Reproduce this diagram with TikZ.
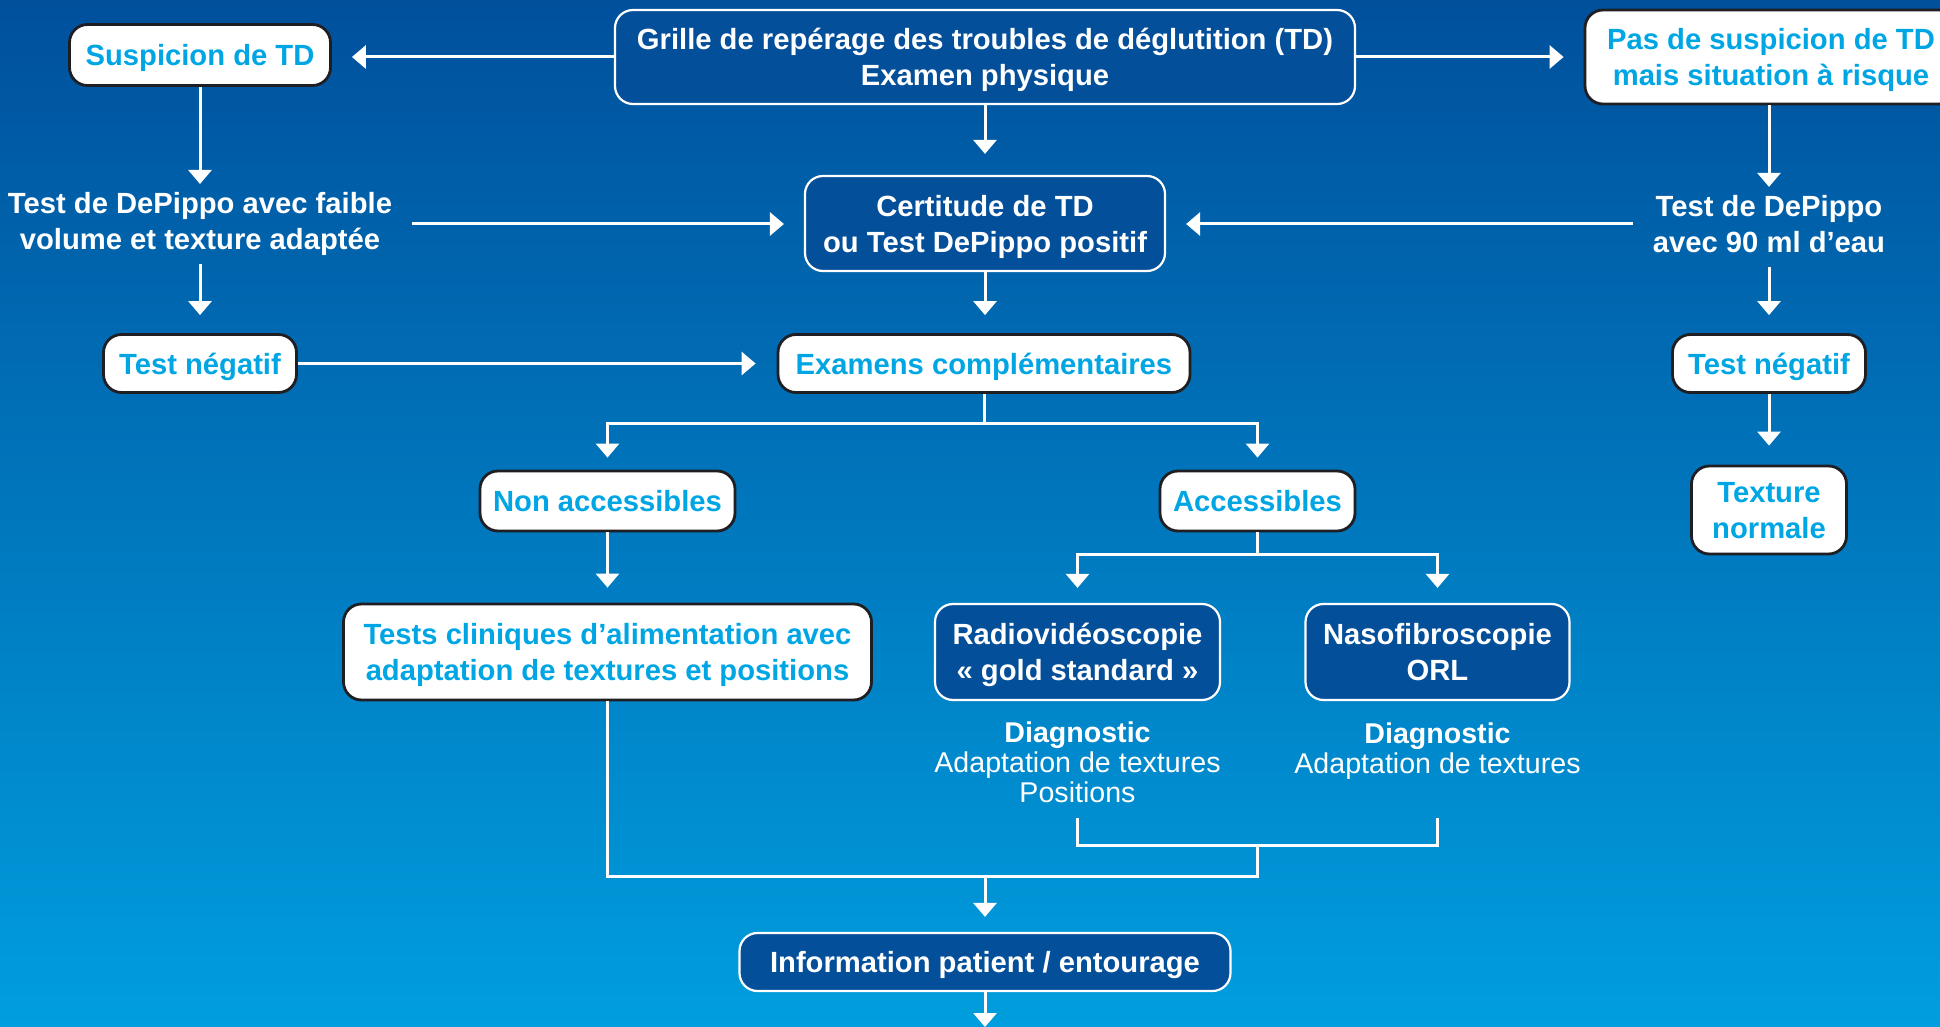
\documentclass[tikz,border=0pt]{standalone}
\usepackage{fontspec}
\setmainfont{Liberation Sans}
\usetikzlibrary{arrows.meta}
\definecolor{bgtop}{RGB}{0,80,156}
\definecolor{bgbot}{RGB}{0,158,222}
\definecolor{dkbox}{RGB}{4,79,154}
\definecolor{cyantxt}{RGB}{0,166,228}
\definecolor{edgecol}{RGB}{30,30,35}
\newcommand\mysz{\fontsize{14.6pt}{18pt}\selectfont}
\newcommand\mydiagsz{\fontsize{14.3pt}{15pt}\selectfont}
\begin{document}
\begin{tikzpicture}[x=0.5pt,y=-0.5pt,
  base/.style={align=center, font=\mysz\bfseries, inner sep=0pt, rounded corners=9pt, text depth=0pt},
  darkbox/.style={base, fill=dkbox, draw=white, line width=1.1pt, text=white},
  whitebox/.style={base, fill=white, draw=edgecol, line width=1.4pt, text=cyantxt},
  plaintext/.style={align=center, font=\mysz\bfseries, text=white, inner xsep=10pt, inner ysep=4pt},
  diagtext/.style={align=center, font=\mydiagsz, text=white, inner sep=0pt},
  conn/.style={draw=white, line width=1.5pt},
  arr/.style={conn, -{Triangle[width=11.5pt,length=7pt]}},
]
\shade[top color=bgtop, bottom color=bgbot] (0,0) rectangle (1940,1027);
\useasboundingbox (0,0) rectangle (1940,1027);

\node[darkbox, minimum width=370pt, minimum height=47pt] (grille) at (985,57) {Grille de repérage des troubles de déglutition (TD)\\Examen physique};
\node[whitebox, minimum width=130.5pt, minimum height=30.5pt] (susp) at (200,55) {Suspicion de TD};
\node[whitebox, minimum width=186pt, minimum height=47pt] (pas) at (1771,57) {Pas de suspicion de TD\\mais situation à risque};
\node[darkbox, minimum width=180pt, minimum height=47.5pt] (cert) at (985,223.5) {Certitude de TD\\ou Test DePippo positif};
\node[plaintext] (dpl) at (200,224) {Test de DePippo avec faible\\volume et texture adaptée};
\node[plaintext] (dpr) at (1769,224) {Test de DePippo\\avec 90 ml d’eau};
\node[whitebox, minimum width=96.5pt, minimum height=29pt] (tnl) at (200,363.5) {Test négatif};
\node[whitebox, minimum width=206pt, minimum height=29pt] (exam) at (984,363.5) {Examens complémentaires};
\node[whitebox, minimum width=96.5pt, minimum height=29pt] (tnr) at (1769,363.5) {Test négatif};
\node[whitebox, minimum width=77.5pt, minimum height=44pt] (texn) at (1769,510) {Texture\\normale};
\node[whitebox, minimum width=127.5pt, minimum height=30pt] (nonacc) at (607.5,501) {Non accessibles};
\node[whitebox, minimum width=97.5pt, minimum height=30pt] (acc) at (1257.5,501) {Accessibles};
\node[whitebox, minimum width=264pt, minimum height=48pt] (tcl) at (607.5,652) {Tests cliniques d’alimentation avec\\adaptation de textures et positions};
\node[darkbox, minimum width=142.5pt, minimum height=48pt] (radio) at (1077.5,652) {Radiovidéoscopie\\« gold standard »};
\node[darkbox, minimum width=132pt, minimum height=48pt] (naso) at (1437.5,652) {Nasofibroscopie\\ORL};
\node[diagtext] (dgr) at (1077.5,762) {\textbf{Diagnostic}\\Adaptation de textures\\Positions};
\node[diagtext] (dgn) at (1437.5,751) {\textbf{Diagnostic}\\Adaptation de textures};
\node[darkbox, minimum width=245.5pt, minimum height=29pt] (info) at (985,962) {Information patient / entourage};

\coordinate (br1) at (1077.5,818);
\coordinate (br2) at (1437.5,818);
\coordinate (brm) at (1257.5,845);
\coordinate (jn) at (985,876);
\coordinate (bot) at (985,1027);

\draw[arr, shorten >=10pt] (grille.west) -- (grille.west -| susp.east);
\draw[arr, shorten >=10pt] (grille.east) -- (grille.east -| pas.west);
\draw[arr, shorten >=10.5pt] (grille.south) -- (cert.north);
\draw[arr] (susp.south) -- (susp.south |- dpl.north);
\draw[arr] (pas.south -| dpr.north) -- (dpr.north);
\draw[arr, shorten >=10pt] (dpl.east) -- (dpl.east -| cert.west);
\draw[arr, shorten >=10pt] (dpr.west) -- (dpr.west -| cert.east);
\draw[arr, shorten >=9pt] (dpl.south) -- (tnl.north);
\draw[arr, shorten >=9pt, shorten <=3pt] (dpr.south) -- (tnr.north);
\draw[arr, shorten >=9pt] (cert.south) -- (cert.south |- exam.north);
\draw[arr, shorten >=10.5pt] (tnl.east) -- (tnl.east -| exam.west);
\draw[arr, shorten >=9.5pt] (tnr.south) -- (texn.north);
\draw[arr, shorten >=6pt] (exam.south) -- ++(0,30) -| (nonacc.north);
\draw[arr, shorten >=6pt] (exam.south) -- ++(0,30) -| (acc.north);
\draw[arr, shorten >=7.5pt] (nonacc.south) -- (tcl.north);
\draw[arr, shorten >=7.5pt] (acc.south) -- ++(0,22) -| (radio.north);
\draw[arr, shorten >=7.5pt] (acc.south) -- ++(0,22) -| (naso.north);
\draw[conn] (br1) |- (brm) -| (br2);
\draw[conn] (brm) -- ++(0,31) -| (tcl.south);
\draw[arr, shorten >=7.5pt] (jn) -- (info.north);
\draw[arr] (info.south) -- (bot);
\end{tikzpicture}
\end{document}
